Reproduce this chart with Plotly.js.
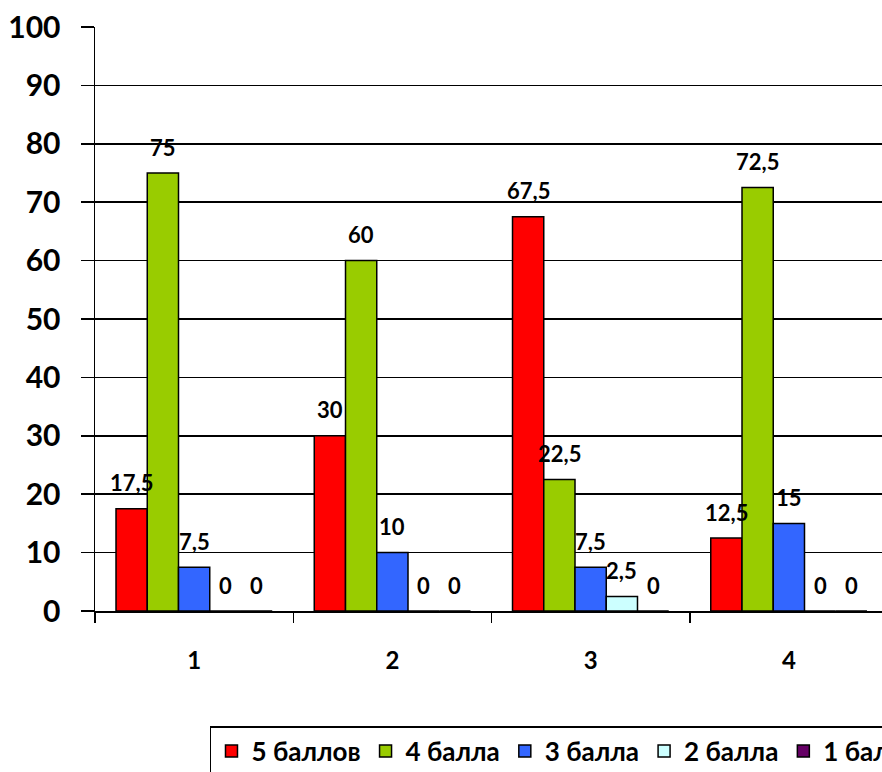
<!DOCTYPE html>
<html>
<head>
<meta charset="utf-8">
<script src="https://cdn.plot.ly/plotly-3.0.1.min.js"></script>
<style>
html,body{margin:0;padding:0;overflow:hidden;background:#fff;}
#chart{width:1060px;height:772px;}
</style>
</head>
<body>
<div id="chart"></div>
<script>
const categories = ["1", "2", "3", "4"];
const seriesNames = ["5 баллов", "4 балла", "3 балла", "2 балла", "1 балл"];
const s5 = [17.5, 30, 67.5, 12.5];
const s4 = [75, 60, 22.5, 72.5];
const s3 = [7.5, 10, 7.5, 15];
const s2 = [0, 0, 2.5, 0];
const s1 = [0, 0, 0, 0];
const seriesValues = [s5, s4, s3, s2, s1];
const colors = ["#FF0000", "#99CC00", "#3366FF", "#CCFFFF", "#660066"];
const yTicks = [0, 10, 20, 30, 40, 50, 60, 70, 80, 90, 100];

const FONT = "Lato, 'Open Sans', sans-serif";
const bargap = 0.212;
const xIdx = categories.map((c, i) => i);
const nS = seriesValues.length;
const bw = (1 - bargap) / nS;

const traces = seriesValues.map((vals, s) => ({
  type: "bar",
  name: seriesNames[s],
  x: xIdx,
  y: vals,
  marker: {color: colors[s], line: {color: "#000", width: 1.5}},
  hoverinfo: "skip"
}));

const annotations = [];
seriesValues.forEach((vals, s) => {
  vals.forEach((v, c) => {
    annotations.push({
      x: c + (s - (nS - 1) / 2) * bw,
      y: v,
      xref: "x", yref: "y",
      text: String(v).replace(".", ","),
      showarrow: false,
      yanchor: "middle",
      yshift: 26,
      font: {family: FONT, size: 22, color: "#000", weight: "bold"}
    });
  });
});

const layout = {
  width: 1060,
  height: 772,
  margin: {l: 95, r: 172, t: 27, b: 161, autoexpand: false},
  paper_bgcolor: "#fff",
  plot_bgcolor: "#fff",
  barmode: "group",
  bargap: bargap,
  bargroupgap: 0,
  showlegend: true,
  legend: {
    orientation: "h",
    x: 0.145, xanchor: "left",
    y: -0.197, yanchor: "top",
    bordercolor: "#000",
    borderwidth: 1.5,
    itemwidth: 30,
    font: {family: FONT, size: 26, color: "#000", weight: "bold"},
    traceorder: "normal"
  },
  xaxis: {
    type: "linear",
    range: [-0.5, 3.5],
    tickmode: "array",
    tickvals: xIdx,
    ticktext: categories,
    ticks: "",
    ticklabelstandoff: 28,
    showgrid: false,
    zeroline: false,
    showline: true,
    linecolor: "#000",
    linewidth: 1.5,
    tickfont: {family: FONT, size: 24, color: "#000", weight: "bold"},
    minor: {
      tickmode: "linear",
      tick0: -0.5,
      dtick: 1,
      ticks: "outside",
      ticklen: 10,
      tickwidth: 1.5,
      tickcolor: "#000",
      showgrid: false
    },
    fixedrange: true
  },
  yaxis: {
    range: [0, 100],
    tickmode: "array",
    tickvals: yTicks,
    ticktext: yTicks.map(String),
    ticks: "outside",
    ticklen: 13,
    tickwidth: 1.5,
    tickcolor: "#000",
    ticklabelstandoff: 14,
    showgrid: true,
    gridcolor: "#000",
    gridwidth: 1.5,
    zeroline: false,
    showline: true,
    linecolor: "#000",
    linewidth: 1.5,
    tickfont: {family: FONT, size: 30, color: "#000", weight: "bold"},
    fixedrange: true
  },
  annotations: annotations
};

Plotly.newPlot("chart", traces, layout, {displayModeBar: false, staticPlot: true});
</script>
</body>
</html>
